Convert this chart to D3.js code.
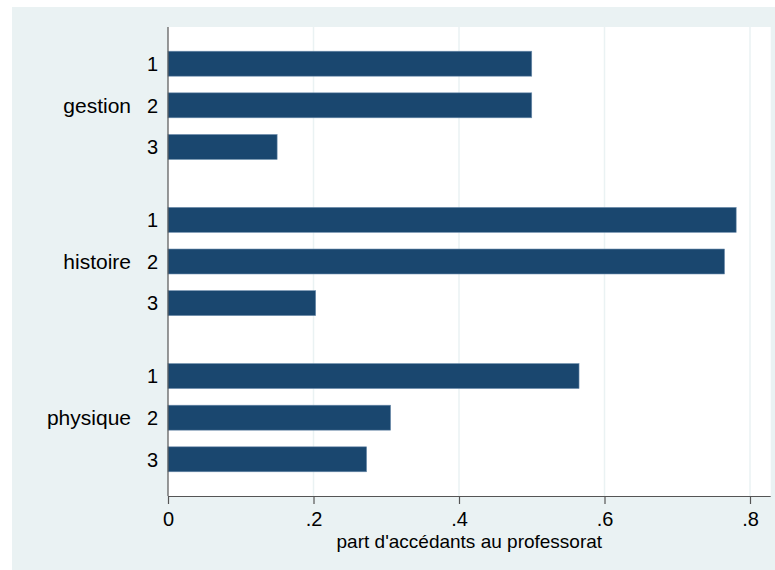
<!DOCTYPE html>
<html>
<head>
<meta charset="utf-8">
<script src="https://cdn.jsdelivr.net/npm/d3@7"></script>
<style>
  body { margin: 0; background: #fff; }
  text { font-family: Arial, "Liberation Sans", Helvetica, sans-serif; fill: #000; }
</style>
</head>
<body>
<div id="chart"></div>
<script>
/* hbar: part d'accédants au professorat par discipline et cohorte */

const disciplines = ["gestion", "histoire", "physique"];
const cohorts = ["1", "2", "3"];
const gestion = [0.500, 0.500, 0.150];
const histoire = [0.781, 0.765, 0.203];
const physique = [0.565, 0.306, 0.273];
const xTicks = [0, 0.2, 0.4, 0.6, 0.8];
const xTitle = "part d'accédants au professorat";

const values = { gestion, histoire, physique };
let data = [];
for (let g of disciplines) {
    cohorts.forEach((c, i) => data.push({ group: g, cohort: c, value: values[g][i] }));
}

const width = 775, height = 570;
const margin = { top: 27, right: 4.3, bottom: 74, left: 168 };

let svg = d3.select("#chart")
    .append("svg")
    .attr("width", width)
    .attr("height", height);

// outer light background
svg.append("rect")
    .attr("x", 12).attr("y", 7)
    .attr("width", width - 12).attr("height", height - 7)
    .attr("fill", "#eaf2f3");

// plot region
svg.append("rect")
    .attr("x", margin.left).attr("y", margin.top)
    .attr("width", width - margin.right - margin.left)
    .attr("height", height - margin.bottom - margin.top)
    .attr("fill", "#fff");

let x = d3.scaleLinear()
    .domain([0, 0.8])
    .range([margin.left, 750]);

let y0 = d3.scaleBand()
    .domain(disciplines)
    .range([margin.top, height - margin.bottom])
    .paddingInner(0.307)
    .paddingOuter(0.155);

let y1 = d3.scaleBand()
    .domain(cohorts)
    .range([0, y0.bandwidth()])
    .paddingInner(0.4)
    .paddingOuter(0);

// vertical gridlines
svg.append("g")
    .selectAll("line")
    .data(xTicks.filter(d => d > 0))
    .join("line")
    .attr("x1", d => x(d)).attr("x2", d => x(d))
    .attr("y1", margin.top).attr("y2", height - margin.bottom)
    .attr("stroke", "#eaf2f3")
    .attr("stroke-width", 1.5);

// bars
let bar = svg.selectAll(".bar")
    .data(data)
    .join("g")
    .attr("class", "bar");

bar.append("rect")
    .attr("x", x(0))
    .attr("y", d => y0(d.group) + y1(d.cohort))
    .attr("width", d => x(d.value) - x(0))
    .attr("height", y1.bandwidth())
    .attr("fill", "#1a476f")
    .attr("stroke", "#6f8fae")
    .attr("stroke-width", 0.6);

// cohort labels
bar.append("text")
    .text(d => d.cohort)
    .attr("x", margin.left - 10)
    .attr("y", d => y0(d.group) + y1(d.cohort) + y1.bandwidth() / 2)
    .attr("dy", "0.36em")
    .attr("text-anchor", "end")
    .style("font-size", "20px");

// discipline labels
svg.append("g")
    .selectAll("text")
    .data(disciplines)
    .join("text")
    .text(d => d)
    .attr("x", 131)
    .attr("y", d => y0(d) + y0.bandwidth() / 2)
    .attr("dy", "0.36em")
    .attr("text-anchor", "end")
    .style("font-size", "21px");

// left axis line
svg.append("line")
    .attr("x1", margin.left).attr("x2", margin.left)
    .attr("y1", margin.top).attr("y2", height - margin.bottom)
    .attr("stroke", "#555")
    .attr("stroke-width", 1.2);

// bottom axis
let xAxis = svg.append("g")
    .attr("transform", `translate(0,${height - margin.bottom})`)
    .call(d3.axisBottom(x)
        .tickValues(xTicks)
        .tickSize(8)
        .tickPadding(8)
        .tickFormat(d => d === 0 ? "0" : d3.format(".1f")(d).replace(/^0/, "")));

xAxis.select(".domain")
    .attr("d", `M${margin.left},0.5H${width - margin.right}`)
    .attr("stroke", "#555")
    .attr("stroke-width", 1.2);
xAxis.selectAll(".tick line").attr("stroke", "#555").attr("stroke-width", 1.2);
xAxis.selectAll(".tick text")
    .style("font-size", "20px")
    .style("font-family", "Arial, 'Liberation Sans', sans-serif")
    .attr("fill", "#000");

// axis title
svg.append("text")
    .text(xTitle)
    .attr("x", (x(0) + width - margin.right) / 2)
    .attr("y", 541)
    .attr("dy", "0.35em")
    .attr("text-anchor", "middle")
    .style("font-size", "19px");
</script>
</body>
</html>
